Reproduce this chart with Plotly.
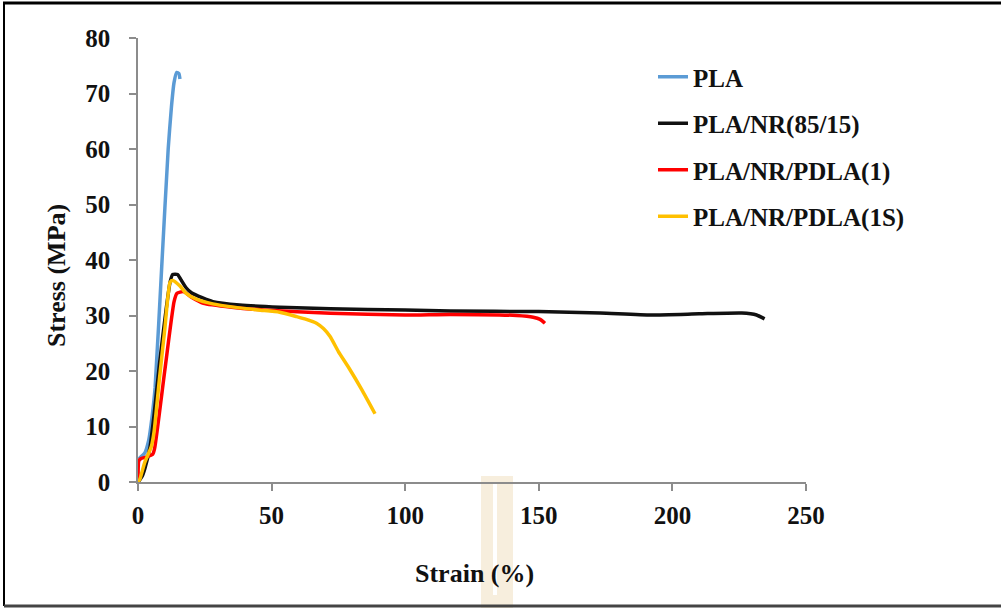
import plotly.graph_objects as go

# ---------------- data ----------------
pla_x = [0.4, 1.2, 2.5, 4.0, 5.2, 6.4, 8.9, 11.3, 12.5, 13.5, 14.5, 15.3, 15.7]
pla_y = [4.2, 4.6, 5.2, 7.5, 11.5, 17.0, 39.0, 60.0, 67.5, 72.0, 73.8, 73.6, 72.6]

nr_x = [0, 0.5, 1.5, 2.6, 4.5, 6.0, 8.2, 10.5, 12.0, 13.0, 14.8, 16.0, 18.0, 20.0,
        24.0, 28.0, 38.0, 53.0, 72.0, 100.0, 117.0, 150.0, 173.0, 192.0, 210.0,
        226.0, 231.5, 234.5]
nr_y = [0, 0.3, 1.0, 2.5, 6.3, 12.0, 22.0, 31.0, 36.0, 37.4, 37.4, 36.5, 35.0, 34.1,
        33.2, 32.5, 31.9, 31.5, 31.2, 31.0, 30.8, 30.7, 30.45, 30.1, 30.3,
        30.45, 30.1, 29.4]

pdla1_x = [0, 0.3, 1.0, 3.0, 5.5, 6.2, 10.0, 13.5, 14.6, 17.0, 20.0, 24.5, 35.0,
           46.9, 72.0, 100.0, 117.0, 141.7, 147.9, 150.5, 152.3]
pdla1_y = [0.5, 3.8, 4.2, 4.5, 5.0, 6.0, 20.0, 32.5, 34.0, 34.3, 33.3, 32.2, 31.5,
           31.0, 30.4, 30.1, 30.2, 30.0, 29.7, 29.3, 28.6]

pdla1s_x = [0, 0.7, 2.5, 5.0, 6.0, 8.0, 10.0, 12.0, 13.0, 15.7, 18.0, 22.0, 28.0,
            34.4, 45.0, 53.0, 59.4, 63.0, 66.8, 69.5, 71.9, 75.0, 79.0, 83.8, 88.7]
pdla1s_y = [0, 0.5, 3.5, 6.4, 9.0, 18.5, 27.4, 36.0, 36.3, 35.3, 34.0, 32.9, 32.1,
            31.6, 31.0, 30.6, 29.8, 29.3, 28.6, 27.6, 26.2, 23.5, 20.5, 16.6, 12.3]

series_names = ["PLA", "PLA/NR(85/15)", "PLA/NR/PDLA(1)", "PLA/NR/PDLA(1S)"]
series_colors = ["#5B9BD5", "#111111", "#FF0000", "#FFC000"]

x_ticks = [0, 50, 100, 150, 200, 250]
y_ticks = [0, 10, 20, 30, 40, 50, 60, 70, 80]

FONT = "Times New Roman"

# ---------------- figure ----------------
fig = go.Figure()
for name, xs, ys, col in zip(series_names,
                             [pla_x, nr_x, pdla1_x, pdla1s_x],
                             [pla_y, nr_y, pdla1_y, pdla1s_y],
                             series_colors):
    fig.add_trace(go.Scatter(
        x=xs, y=ys, mode="lines", name=f"<b>{name}</b>", legendgroup=name,
        line=dict(color=col, width=3.5, shape="spline", smoothing=0.5),
    ))

W, H = 1001, 608
L, R, T, B = 138, 195, 38, 126
pw, ph = W - L - R, H - T - B


def px_to_paper_x(px):
    return (px - L) / pw


def px_to_paper_y(py):
    return (H - B - py) / ph


axis_common = dict(
    showgrid=False, zeroline=False, showline=True, linecolor="#8c8c8c", linewidth=1.5,
    ticks="outside", ticklen=7, tickcolor="#8c8c8c", tickwidth=1.5,
    tickfont=dict(family=FONT, size=25, color="#111111"),
)

fig.update_layout(
    width=W, height=H,
    margin=dict(l=L, r=R, t=T, b=B),
    paper_bgcolor="white", plot_bgcolor="white",
    font=dict(family=FONT, color="#111111"),
    xaxis=dict(range=[0, 250], tickvals=x_ticks,
               ticktext=[f"<b>{v}</b>" for v in x_ticks],
               ticklabelstandoff=3, **axis_common),
    yaxis=dict(range=[0, 80], tickvals=y_ticks,
               ticktext=[f"<b>{v}</b>" for v in y_ticks],
               ticklabelstandoff=14, **axis_common),
    legend=dict(
        x=px_to_paper_x(653), y=px_to_paper_y(54), xanchor="left", yanchor="top",
        font=dict(family=FONT, size=25, color="#111111"),
        tracegroupgap=11, bgcolor="rgba(0,0,0,0)",
    ),
    showlegend=True,
)

# axis titles
fig.add_annotation(text="<b>Strain (%)</b>", xref="paper", yref="paper",
                   x=px_to_paper_x(474), y=px_to_paper_y(573),
                   xanchor="center", yanchor="middle", showarrow=False,
                   font=dict(family=FONT, size=26, color="#111111"))
fig.add_annotation(text="<b>Stress (MPa)</b>", xref="paper", yref="paper",
                   x=px_to_paper_x(56), y=px_to_paper_y(276),
                   xanchor="center", yanchor="middle", showarrow=False,
                   textangle=-90, font=dict(family=FONT, size=26, color="#111111"))

# watermark (faint logo) and image frame
shapes = [
    dict(type="rect", xref="paper", yref="paper", layer="below",
         x0=px_to_paper_x(481), x1=px_to_paper_x(513),
         y0=px_to_paper_y(608), y1=px_to_paper_y(476),
         fillcolor="#f7eedd", line=dict(width=0)),
    dict(type="rect", xref="paper", yref="paper", layer="below",
         x0=px_to_paper_x(493), x1=px_to_paper_x(497),
         y0=px_to_paper_y(595), y1=px_to_paper_y(483),
         fillcolor="white", line=dict(width=0)),
    dict(type="line", xref="paper", yref="paper",
         x0=px_to_paper_x(3), x1=px_to_paper_x(1001),
         y0=px_to_paper_y(3), y1=px_to_paper_y(3),
         line=dict(color="black", width=3)),
    dict(type="line", xref="paper", yref="paper",
         x0=px_to_paper_x(4), x1=px_to_paper_x(4),
         y0=px_to_paper_y(2), y1=px_to_paper_y(606),
         line=dict(color="black", width=2)),
    dict(type="line", xref="paper", yref="paper",
         x0=px_to_paper_x(4), x1=px_to_paper_x(1001),
         y0=px_to_paper_y(606), y1=px_to_paper_y(606),
         line=dict(color="#444444", width=3)),
]
fig.update_layout(shapes=shapes)

fig.write_html("out.html")
